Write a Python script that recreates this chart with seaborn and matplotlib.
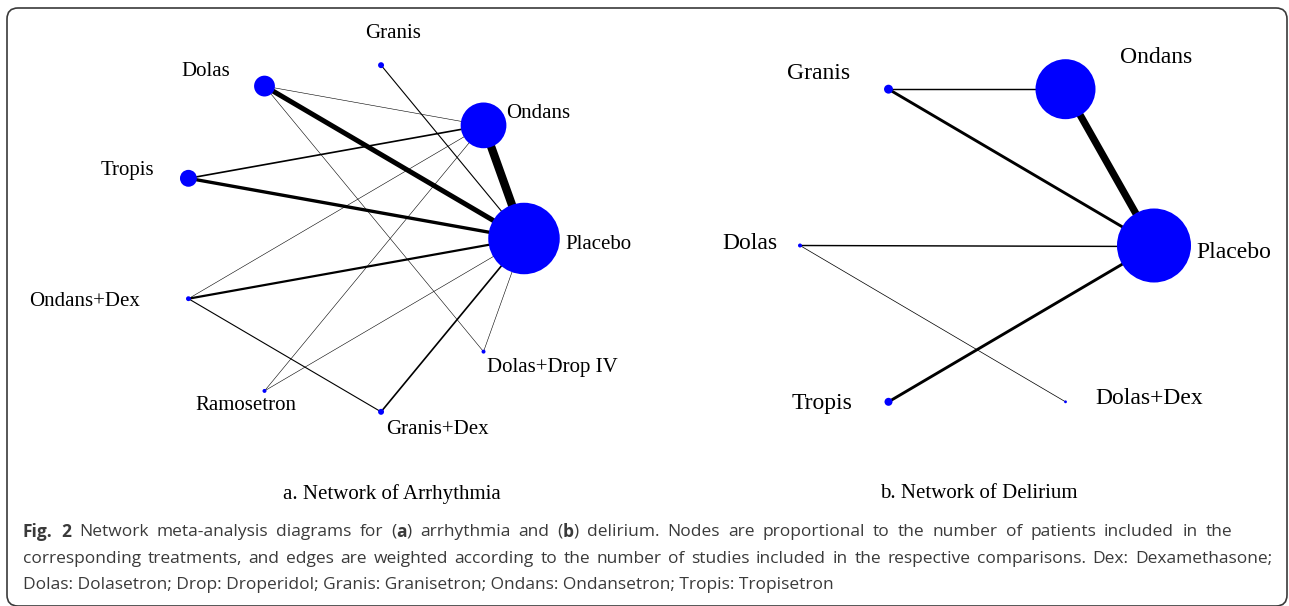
import numpy as np
import pandas as pd
import seaborn as sns
import matplotlib.pyplot as plt
from matplotlib.patches import FancyBboxPatch

# a. arrhythmia network, nodes listed counter-clockwise starting at the right
arr_nodes = ["Placebo", "Ondans", "Granis", "Dolas", "Tropis", "Ondans+Dex",
             "Ramosetron", "Granis+Dex", "Dolas+Drop IV"]
arr_patients = [2590, 1060, 18, 220, 145, 12, 8, 18, 8]
arr_from = ["Ondans", "Dolas", "Tropis", "Ondans+Dex", "Tropis", "Granis+Dex",
            "Ondans+Dex", "Granis", "Dolas", "Dolas", "Ondans+Dex",
            "Ramosetron", "Ramosetron", "Dolas+Drop IV"]
arr_to = ["Placebo", "Placebo", "Placebo", "Placebo", "Ondans", "Placebo",
          "Granis+Dex", "Placebo", "Ondans", "Dolas+Drop IV", "Ondans",
          "Ondans", "Placebo", "Placebo"]
arr_studies = [15, 9, 6, 4, 3, 3, 2, 2, 1, 1, 1, 1, 1, 1]

# b. delirium network
del_nodes = ["Placebo", "Ondans", "Granis", "Dolas", "Tropis", "Dolas+Dex"]
del_patients = [1370, 900, 20, 4, 16, 2]
del_from = ["Ondans", "Granis", "Tropis", "Granis", "Dolas", "Dolas"]
del_to = ["Placebo", "Placebo", "Placebo", "Ondans", "Placebo", "Dolas+Dex"]
del_studies = [10, 4, 4, 2, 2, 1]

W, H = 1289, 606
BLUE = "#0000ff"
PX = 0.72  # points per pixel at dpi 100


def circle_layout(names):
    ang = np.arange(len(names)) * 2 * np.pi / len(names)
    return pd.DataFrame({"node": names, "x": np.cos(ang), "y": np.sin(ang)})


def draw_network(fig, names, patients, e_from, e_to, studies, centre, radius,
                 node_max, width_max, labels, fontsize):
    cx, cy = centre
    rx, ry = radius
    ax = fig.add_axes([0, 0, 1, 1])
    ax.set_xlim(-cx / rx, (W - cx) / rx)
    ax.set_ylim(-(H - cy) / ry, cy / ry)
    ax.set_axis_off()
    ax.patch.set_alpha(0)

    nodes = circle_layout(names)
    nodes["patients"] = patients
    pos = nodes.set_index("node")

    rows = []
    for i, (a, b, n) in enumerate(zip(e_from, e_to, studies)):
        for end in (a, b):
            rows.append({"edge": i, "x": pos.loc[end, "x"],
                         "y": pos.loc[end, "y"], "studies": n})
    edges = pd.DataFrame(rows)

    sns.lineplot(data=edges, x="x", y="y", units="edge", estimator=None,
                 sort=False, size="studies", sizes=(0, width_max),
                 size_norm=(0, max(studies)), color="black", legend=False,
                 ax=ax, solid_capstyle="butt")
    sns.scatterplot(data=nodes, x="x", y="y", size="patients",
                    sizes=(0, node_max), size_norm=(0, max(patients)),
                    color=BLUE, edgecolor="none", legend=False, ax=ax,
                    zorder=3, clip_on=False)

    for name, (dx, dy, ha) in labels.items():
        ax.annotate(name, xy=(pos.loc[name, "x"], pos.loc[name, "y"]),
                    xytext=(dx * PX, -dy * PX), textcoords="offset points",
                    ha=ha, va="center", fontsize=fontsize,
                    family="Liberation Serif", color="black")
    return ax


sns.set_theme(style="white")
plt.rcParams["font.family"] = ["Open Sans", "DejaVu Sans"]

fig = plt.figure(figsize=(W / 100, H / 100), dpi=100)

bg = fig.add_axes([0, 0, 1, 1])
bg.set_xlim(0, W)
bg.set_ylim(H, 0)
bg.set_axis_off()
bg.add_patch(FancyBboxPatch((7, 8), 1280, 598, boxstyle="round,pad=0,rounding_size=11",
                            fill=False, edgecolor="#3a3a3a", linewidth=1.2,
                            clip_on=False))

# label offsets from node centres in pixels (dx, dy downwards, alignment)
arr_labels = {
    "Placebo": (41, 6, "left"), "Ondans": (23, -12, "left"),
    "Granis": (12, -32, "center"), "Dolas": (-59, -15, "center"),
    "Tropis": (-34, -8, "right"), "Ondans+Dex": (-48, 3, "right"),
    "Ramosetron": (-19, 15, "center"), "Granis+Dex": (56, 18, "center"),
    "Dolas+Drop IV": (3, 16, "left"),
}
del_labels = {
    "Placebo": (42, 7, "left"), "Ondans": (91, -32, "center"),
    "Granis": (-70, -16, "center"), "Dolas": (-50, -2, "center"),
    "Tropis": (-67, 2, "center"), "Dolas+Dex": (84, -3, "center"),
}

draw_network(fig, arr_nodes, arr_patients, arr_from, arr_to, arr_studies,
             centre=(351, 238.5), radius=(173, 176), node_max=2650,
             width_max=6.0, labels=arr_labels, fontsize=15)
draw_network(fig, del_nodes, del_patients, del_from, del_to, del_studies,
             centre=(977, 245.5), radius=(177, 180.5), node_max=2840,
             width_max=5.2, labels=del_labels, fontsize=17)

bg.text(392, 494, "a. Network of Arrhythmia", ha="center", va="center",
        fontsize=15, family="Liberation Serif", color="black")
bg.text(979, 494, "b. Network of Delirium", ha="center", va="center",
        fontsize=15, family="Liberation Serif", color="black")

# caption: the first two lines are justified to the right margin
cap_color = "#3a3a3a"
cap_size = 12.5
renderer = fig.canvas.get_renderer()


def justified_line(y, words, x0, x1):
    placed = []
    total = 0
    for word in words:
        segs = []
        for s, weight in word:
            t = bg.text(x0, y, s, ha="left", va="center", fontsize=cap_size,
                        fontweight=weight, color=cap_color)
            w = t.get_window_extent(renderer).width
            segs.append((t, w))
            total += w
        placed.append(segs)
    gap = (x1 - x0 - total) / (len(words) - 1)
    x = x0
    for segs in placed:
        for t, w in segs:
            t.set_x(x)
            x += w
        x += gap


def plain(text):
    return [[(w, "normal")] for w in text.split()]


line1 = ([[("Fig.", "bold")], [("2", "bold")]]
         + plain("Network meta-analysis diagrams for")
         + [[("(", "normal"), ("a", "bold"), (")", "normal")]]
         + plain("arrhythmia and")
         + [[("(", "normal"), ("b", "bold"), (")", "normal")]]
         + plain("delirium. Nodes are proportional to the number of patients "
                 "included in the"))
line2 = plain("corresponding treatments, and edges are weighted according to the "
              "number of studies included in the respective comparisons. "
              "Dex: Dexamethasone;")

justified_line(532, line1, 23, 1232)
justified_line(559, line2, 23, 1272)
bg.text(23, 585, "Dolas: Dolasetron; Drop: Droperidol; Granis: Granisetron; "
        "Ondans: Ondansetron; Tropis: Tropisetron",
        ha="left", va="center", fontsize=cap_size, color=cap_color)

fig.savefig("out.png", dpi=100, facecolor="white")
